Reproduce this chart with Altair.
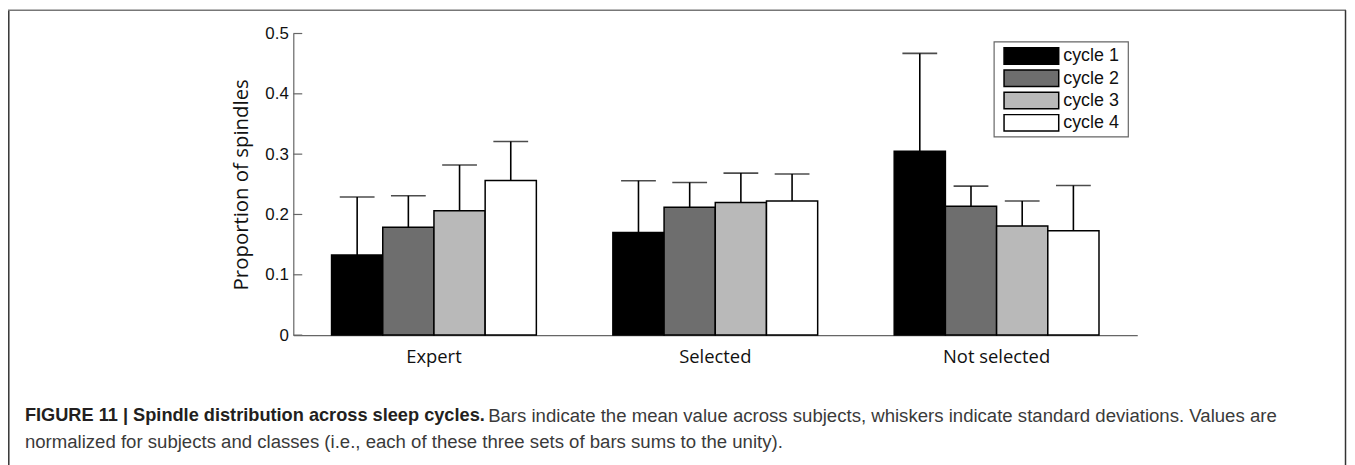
import altair as alt
import pandas as pd

groups = ["Expert", "Selected", "Not selected"]
cycles = ["cycle 1", "cycle 2", "cycle 3", "cycle 4"]
colors = ["#000000", "#6e6e6e", "#b9b9b9", "#ffffff"]

mean_expert = [0.133, 0.179, 0.206, 0.2565]
sd_expert = [0.096, 0.052, 0.076, 0.0645]
mean_selected = [0.170, 0.212, 0.220, 0.2225]
sd_selected = [0.086, 0.041, 0.0486, 0.0445]
mean_notsel = [0.305, 0.2137, 0.181, 0.173]
sd_notsel = [0.162, 0.0333, 0.0414, 0.075]

y_ticks = [0, 0.1, 0.2, 0.3, 0.4, 0.5]

caption_bold = "FIGURE 11 | Spindle distribution across sleep cycles."
caption_line1 = "Bars indicate the mean value across subjects, whiskers indicate standard deviations. Values are"
caption_line2 = "normalized for subjects and classes (i.e., each of these three sets of bars sums to the unity)."

rows = []
for g, means, sds in zip(groups, [mean_expert, mean_selected, mean_notsel], [sd_expert, sd_selected, sd_notsel]):
    for c, m, s in zip(cycles, means, sds):
        rows.append({"group": g, "cycle": c, "mean": m, "top": m + s})
df = pd.DataFrame(rows)

W, H = 849, 303.4
PL, PT = 287, 24.3
SVG_W, SVG_H = 1347, 457

yaxis = alt.Axis(title="Proportion of spindles", values=y_ticks, ticks=False, grid=False,
                 labelExpr="datum.value == 0 ? '0' : format(datum.value, '.1f')",
                 labelFont="Liberation Sans", labelFontSize=17, labelColor="#111",
                 labelPadding=5, domainColor="#666", domainWidth=1.2,
                 titleFont="Open Sans", titleFontSize=20.5, titleFontWeight="normal",
                 titleColor="#111", titlePadding=13)
yscale = alt.Scale(domain=[0, 0.5], nice=False)

xenc = alt.X("group:N", sort=groups,
             scale=alt.Scale(paddingInner=0.272, paddingOuter=0.136),
             axis=alt.Axis(title=None, ticks=False, labelAngle=0, labelPadding=13,
                           labelFont="Open Sans", labelFontSize=18.5, labelColor="#111",
                           domainColor="#666", domainWidth=1.2))
xoff = alt.XOffset("cycle:N", sort=cycles, scale=alt.Scale(paddingInner=0, paddingOuter=0))

base = alt.Chart(df).encode(x=xenc, xOffset=xoff)

err = base.mark_rule(color="black", strokeWidth=1.6).encode(
    y=alt.Y("mean:Q", scale=yscale, axis=yaxis), y2="top:Q")
caps = base.mark_tick(orient="horizontal", size=35, thickness=1.6, color="black").encode(
    y=alt.Y("top:Q", scale=yscale, axis=yaxis))
bars = base.mark_bar(stroke="black", strokeWidth=1.5, opacity=1).encode(
    y=alt.Y("mean:Q", scale=yscale, axis=yaxis),
    color=alt.Color("cycle:N", sort=cycles, scale=alt.Scale(domain=cycles, range=colors),
                    legend=None),
)

tickdf = pd.DataFrame({"t": y_ticks})
inticks = alt.Chart(tickdf).mark_rule(color="#666", strokeWidth=1.2).encode(
    y=alt.Y("t:Q", scale=yscale, axis=yaxis), x=alt.value(0), x2=alt.value(9))

one = pd.DataFrame({"k": [0]})

# manual legend (box, swatches, labels)
LX0, LX1, LY0, LY1 = 705, 840, 8.4, 104
SX0, SX1, SY0, SH, SSTEP = 715, 770, 14.4, 16.5, 22.4
legend_layers = [
    alt.Chart(one).mark_rect(fill="white", stroke="#666", strokeWidth=1.2).encode(
        x=alt.value(LX0), x2=alt.value(LX1), y=alt.value(LY0), y2=alt.value(LY1))
]
for i, (c, col) in enumerate(zip(cycles, colors)):
    t = SY0 + SSTEP * i
    legend_layers.append(
        alt.Chart(pd.DataFrame({"cycle": [c]})).mark_rect(fill=col, stroke="black", strokeWidth=1.5).encode(
            x=alt.value(SX0), x2=alt.value(SX1), y=alt.value(t), y2=alt.value(t + SH)))
    legend_layers.append(
        alt.Chart(pd.DataFrame({"cycle": [c]})).mark_text(
            align="left", baseline="middle", font="Liberation Sans", fontSize=18, color="#111").encode(
            x=alt.value(SX1 + 4.5), y=alt.value(t + SH / 2 + 0.5), text="cycle:N"))

frame_left = alt.Chart(one).mark_rule(color="#333", strokeWidth=1.5).encode(
    x=alt.value(-286.2), y=alt.value(-23.5), y2=alt.value(460))
frame_top = alt.Chart(one).mark_rule(color="#777", strokeWidth=1.5).encode(
    x=alt.value(-287), x2=alt.value(1059), y=alt.value(-23.5))
frame_right = alt.Chart(one).mark_rule(color="#333", strokeWidth=1.5).encode(
    x=alt.value(1058.5), y=alt.value(-23.5), y2=alt.value(460))

cap_b = alt.Chart(pd.DataFrame({"text": [caption_bold]})).mark_text(
    align="left", baseline="middle", font="Liberation Sans", fontSize=18.3, fontWeight="bold",
    color="#231f20").encode(x=alt.value(25 - 295), y=alt.value(417 - 32.3), text="text:N")
cap_1 = alt.Chart(pd.DataFrame({"text": [caption_line1]})).mark_text(
    align="left", baseline="middle", font="Liberation Sans", fontSize=18.7,
    color="#3a3a3a").encode(x=alt.value(491 - 295), y=alt.value(417 - 32.3), text="text:N")
cap_2 = alt.Chart(pd.DataFrame({"text": [caption_line2]})).mark_text(
    align="left", baseline="middle", font="Liberation Sans", fontSize=18.7,
    color="#3a3a3a").encode(x=alt.value(25 - 295), y=alt.value(443 - 32.3), text="text:N")

chart = alt.layer(err, caps, bars, inticks, *legend_layers, frame_left, frame_top, frame_right,
                  cap_b, cap_1, cap_2).properties(
    width=W, height=H, autosize="none",
    padding={"left": PL, "top": PT, "right": SVG_W - PL - W, "bottom": SVG_H - PT - H},
    background="white",
).configure_view(stroke=None)

chart.save("out.html", embed_options={"renderer": "svg", "actions": False})
